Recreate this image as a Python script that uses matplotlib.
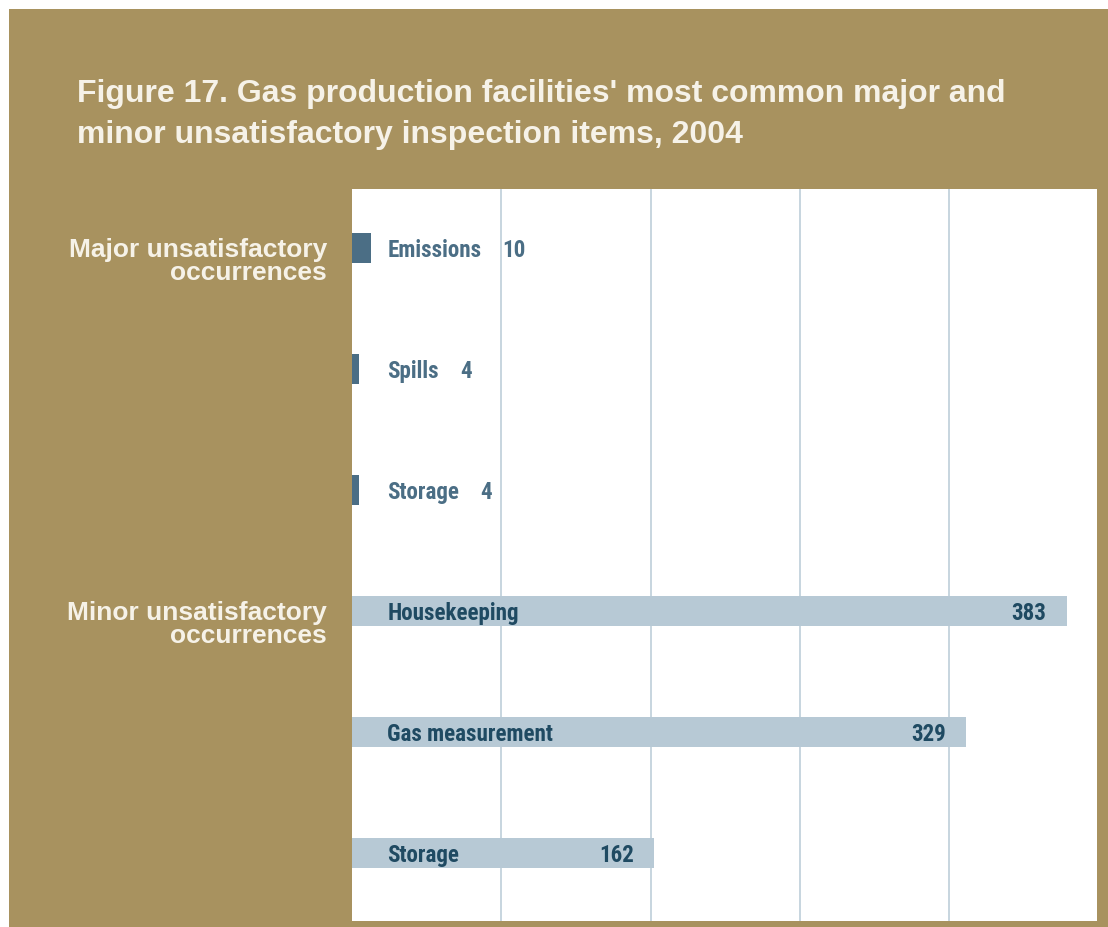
import matplotlib.pyplot as plt
from matplotlib import font_manager
from matplotlib.patches import Rectangle
from matplotlib.transforms import blended_transform_factory

# inspection items, top to bottom
items = ["Emissions", "Spills", "Storage", "Housekeeping", "Gas measurement", "Storage"]
counts = [10, 4, 4, 383, 329, 162]
groups = ["major", "major", "major", "minor", "minor", "minor"]

title = ("Figure 17. Gas production facilities' most common major and\n"
         "minor unsatisfactory inspection items, 2004")
group_labels = {"major": "Major unsatisfactory\noccurrences",
                "minor": "Minor unsatisfactory\noccurrences"}

tan = "#A8925F"
bar_colors = {"major": "#4B6E85", "minor": "#B7C9D5"}
text_colors = {"major": "#4B6E85", "minor": "#1F4A62"}
cream = "#F6F2E8"
plt.rcParams["font.family"] = ["Liberation Sans", "DejaVu Sans"]

# narrow face for the bar labels: first one that is installed
installed = {f.name for f in font_manager.fontManager.ttflist}
narrow = next(n for n in ["Liberation Sans Narrow", "Roboto Condensed", "Arial Narrow",
                          "Nimbus Sans Narrow", "Barlow Semi Condensed", "DejaVu Sans"]
              if n in installed)
label_kw = dict(fontsize=16.6, fontweight="bold", family=[narrow, "DejaVu Sans"])

W, H = 1108, 927
fig = plt.figure(figsize=(W / 100, H / 100), dpi=100, facecolor="white")
fig.patches.append(Rectangle((9 / W, 0), 1, (H - 9) / H, transform=fig.transFigure,
                             facecolor=tan, edgecolor="none", zorder=-5))

ax = fig.add_axes([352 / W, (H - 921) / H, (1097 - 352) / W, (921 - 189) / H])
ax.set_facecolor("white")
ax.set_xlim(0, 399)
ax.set_ylim(5.56, -0.49)
for s in ax.spines.values():
    s.set_visible(False)
ax.set_xticks([80, 160, 240, 320])
ax.set_yticks([])
ax.tick_params(axis="x", length=0, labelbottom=False)
ax.grid(axis="x", color="#C3D2DC", linewidth=1.3)
ax.set_axisbelow(True)

ypos = list(range(len(items)))
ax.barh(ypos, counts, height=0.25, color=[bar_colors[g] for g in groups], zorder=2)

for y, name, n, g in zip(ypos, items, counts, groups):
    lab = ax.text(19, y + 0.015, name, ha="left", va="center", color=text_colors[g],
                  zorder=3, **label_kw)
    if g == "major":
        ax.annotate(str(n), xy=(1, 0.5), xycoords=lab, xytext=(15, 0),
                    textcoords="offset points", ha="left", va="center",
                    color=text_colors[g], zorder=3, **label_kw)
    else:
        ax.text(n - 11, y + 0.015, str(n), ha="right", va="center",
                color=text_colors[g], zorder=3, **label_kw)

side = blended_transform_factory(fig.transFigure, ax.transData)
for y0, key in [(0, "major"), (3, "minor")]:
    ax.text(327 / W, y0 - 0.085, group_labels[key], transform=side, ha="right", va="top",
            fontsize=19, fontweight="bold", color=cream, linespacing=0.93, clip_on=False)

fig.text(77 / W, 1 - 79 / H, title, ha="left", va="top", fontsize=23,
         fontweight="bold", color=cream, linespacing=1.48)

fig.savefig("out.png", dpi=100, facecolor=fig.get_facecolor())
